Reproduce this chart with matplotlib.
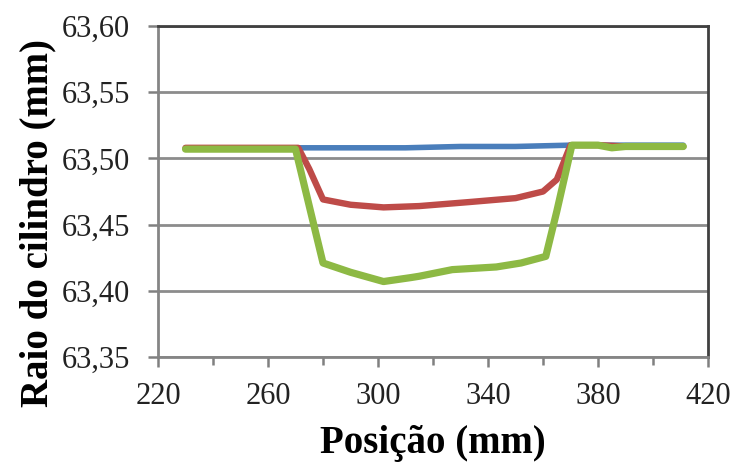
import matplotlib.pyplot as plt
from matplotlib.ticker import FuncFormatter

plt.rcParams['font.family'] = ['Liberation Serif', 'DejaVu Serif']

# Cylinder radius profiles along the axial position (mm)
pos_blue = [230, 250, 270, 290, 310, 330, 350, 370, 390, 411]
r_blue = [63.508, 63.508, 63.508, 63.508, 63.508, 63.509, 63.509, 63.510, 63.510, 63.510]

pos_red = [230, 250, 271, 275, 280, 290, 302, 315, 333, 350, 360, 365, 370, 380, 390, 411]
r_red = [63.508, 63.508, 63.508, 63.492, 63.469, 63.465, 63.463, 63.464, 63.467, 63.470,
         63.475, 63.484, 63.510, 63.510, 63.509, 63.509]

pos_green = [230, 250, 270, 280, 290, 302, 312, 315, 327, 343, 352, 361, 365, 370.5,
             380, 385, 390, 411]
r_green = [63.507, 63.507, 63.507, 63.421, 63.414, 63.407, 63.410, 63.411, 63.416, 63.418,
           63.421, 63.426, 63.460, 63.510, 63.510, 63.508, 63.509, 63.509]

x_ticks = [220, 260, 300, 340, 380, 420]
x_minor = [240, 280, 320, 360, 400]
y_ticks = [63.35, 63.40, 63.45, 63.50, 63.55, 63.60]

fig = plt.figure(figsize=(7.37, 4.66), dpi=100)
ax = fig.add_axes([0.2144, 0.2339, 0.7463, 0.7103])

ax.plot(pos_blue, r_blue, color='#4a7ebb', lw=4.0, solid_capstyle='round')
ax.plot(pos_red, r_red, color='#be4b48', lw=4.6, solid_capstyle='round')
ax.plot(pos_green, r_green, color='#8db944', lw=5.2, solid_capstyle='round')

ax.set_xlim(220, 420)
ax.set_ylim(63.35, 63.60)
ax.set_xticks(x_ticks)
ax.set_xticks(x_minor, minor=True)
ax.set_yticks(y_ticks)
ax.yaxis.set_major_formatter(FuncFormatter(lambda v, p: f'{v:.2f}'.replace('.', ',')))

ax.grid(axis='y', color='#8c8c8c', lw=2.0)
ax.set_axisbelow(True)
for s in ax.spines.values():
    s.set_color('#858585')
    s.set_linewidth(2.0)
ax.spines['right'].set_color('#404040')
ax.spines['top'].set_color('#404040')

ax.tick_params(axis='both', which='both', direction='out', color='#808080', width=1.8,
               labelsize=22, labelcolor='#222222')
ax.tick_params(axis='y', which='major', length=7.2, pad=13)
ax.tick_params(axis='x', which='major', length=7.2, pad=11)
ax.tick_params(axis='x', which='minor', length=6)

ax.set_xlabel('Posição (mm)', fontsize=28, fontweight='bold', labelpad=10)
ax.set_ylabel('Raio do cilindro (mm)', fontsize=28, fontweight='bold', labelpad=4)
# label sits a little below the axes centre
ax.yaxis.label.set_y(0.405)

fig.savefig('out.png', dpi=100)
